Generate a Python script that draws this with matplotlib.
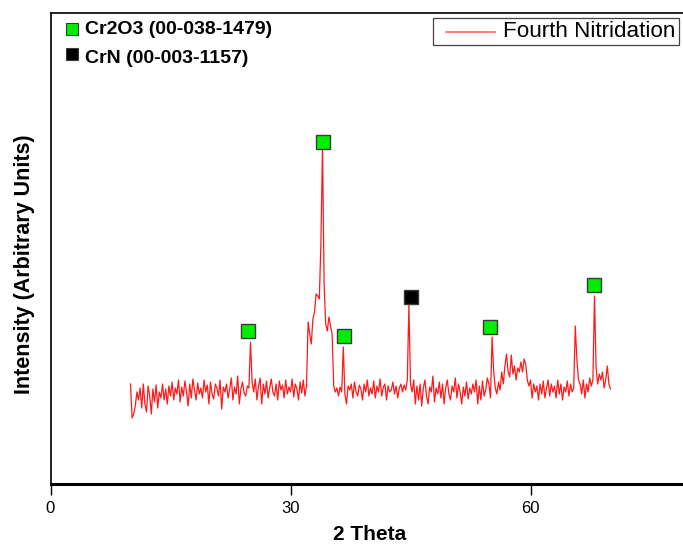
import numpy as np
import matplotlib.pyplot as plt
from matplotlib.lines import Line2D
from matplotlib.patches import Rectangle

plt.rcParams['font.family'] = ['Liberation Sans', 'DejaVu Sans']

# XRD scan, 10-70 deg in 0.2 deg steps (5 readings per degree)
two_theta = np.round(np.arange(10.0, 70.01, 0.2), 1)
intensity = [
    100, 66, 70, 78, 92,      # 10
    84, 96, 76, 100, 80,      # 11
    72, 98, 88, 70, 95,       # 12
    82, 99, 76, 92, 86,       # 13
    100, 84, 95, 80, 98,      # 14
    88, 102, 84, 96, 90,      # 15
    104, 82, 97, 88, 103,     # 16
    92, 78, 100, 86, 105,     # 17
    94, 84, 101, 90, 96,      # 18
    86, 104, 92, 99, 80,      # 19
    102, 90, 85, 100, 96,     # 20
    88, 104, 75, 97, 92,      # 21
    100, 86, 95, 106, 84,     # 22
    97, 90, 108, 80, 95,      # 23
    102, 91, 88, 98, 96,      # 24
    142, 102, 92, 105, 84,    # 25
    98, 106, 80, 100, 90,     # 26
    103, 86, 96, 105, 92,     # 27
    88, 100, 84, 103, 94,     # 28
    99, 86, 104, 90, 97,      # 29
    92, 105, 87, 100, 95,     # 30
    84, 102, 91, 104, 88,     # 31
    98, 162, 150, 140, 165,   # 32
    172, 190, 188, 185, 240,  # 33
    338, 200, 160, 153, 167,  # 34
    158, 150, 98, 92, 96,     # 35
    88, 97, 92, 137, 90,      # 36
    80, 98, 94, 100, 86,      # 37
    102, 92, 88, 99, 95,      # 38
    84, 100, 92, 104, 88,     # 39
    96, 90, 103, 86, 98,      # 40
    92, 105, 88, 97, 100,     # 41
    84, 98, 92, 94, 102,      # 42
    90, 98, 86, 96, 100,      # 43
    92, 99, 94, 104, 179,     # 44
    100, 92, 104, 80, 98,     # 45
    84, 100, 78, 96, 104,     # 46
    88, 80, 97, 92, 108,      # 47
    82, 96, 90, 102, 86,      # 48
    100, 80, 96, 104, 90,     # 49
    84, 98, 92, 106, 86,      # 50
    100, 92, 80, 97, 88,      # 51
    102, 85, 96, 90, 100,     # 52
    92, 104, 80, 98, 84,      # 53
    103, 88, 94, 106, 100,    # 54
    86, 147, 112, 96, 90,     # 55
    102, 94, 112, 100, 118,   # 56
    130, 112, 107, 129, 110,  # 57
    118, 104, 116, 112, 122,  # 58
    112, 125, 120, 104, 98,   # 59
    104, 86, 100, 92, 98,     # 60
    84, 100, 90, 103, 86,     # 61
    96, 104, 88, 100, 92,     # 62
    98, 86, 104, 90, 100,     # 63
    84, 97, 92, 103, 88,      # 64
    100, 92, 96, 158, 124,    # 65
    104, 100, 90, 104, 86,    # 66
    100, 92, 106, 98, 104,    # 67
    188, 116, 100, 110, 104,  # 68
    112, 96, 104, 118, 100,   # 69
    95,                       # 70
]

# phase markers placed over the indexed reflections
cr2o3_pos = [24.65, 34.1, 36.7, 54.9, 67.95]
cr2o3_h = [153, 342, 148, 157, 199]
crn_pos = [45.0]
crn_h = [187]

W, H = 683, 544


def fx(px):
    return px / W


def fy(px):
    return 1 - px / H


fig = plt.figure(figsize=(W / 100, H / 100), dpi=100)
ax = fig.add_axes([fx(50.5), 60 / H, 640 / W, 471 / H])

ax.plot(two_theta, intensity, color='#ff1a1a', lw=0.9)
ax.plot(cr2o3_pos, cr2o3_h, 's', ms=9.5, mfc='#00ee00', mec='#3a3a3a', mew=1.0, ls='none')
ax.plot(crn_pos, crn_h, 's', ms=9.5, mfc='black', mec='#3a3a3a', mew=1.0, ls='none')

ax.set_xlim(0, 80)
ax.set_ylim(0, 471)
ax.set_xticks([0, 30, 60])
ax.set_yticks([])
ax.tick_params(axis='x', direction='out', length=8, width=1, labelsize=12, pad=4)
ax.spines['bottom'].set_linewidth(2.2)
ax.spines['left'].set_linewidth(1.2)
ax.spines['top'].set_linewidth(1.2)

fig.text(fx(370), fy(540), '2 Theta', fontsize=15, fontweight='bold',
         ha='center', va='baseline')
fig.text(fx(25), fy(264), 'Intensity (Arbitrary Units)', fontsize=15.5,
         fontweight='bold', rotation=90, ha='center', va='center')

# phase key in the upper-left corner
key = [('#00ee00', 'Cr2O3 (00-038-1479)', 29, 34), ('black', 'CrN (00-003-1157)', 54, 63)]
for col, txt, sq_y, base_y in key:
    fig.lines.append(Line2D([fx(71.5)], [fy(sq_y)], marker='s', ms=8.3, mfc=col,
                            mec='#3a3a3a', mew=0.8, transform=fig.transFigure))
    fig.text(fx(85), fy(base_y), txt, fontsize=14, fontweight='bold',
             va='baseline', ha='left')

# series legend box, upper right
fig.patches.append(Rectangle((fx(433), fy(45)), fx(679) - fx(433), fy(18) - fy(45),
                             fill=True, facecolor='white', edgecolor='#444444', lw=0.9,
                             transform=fig.transFigure, zorder=5))
fig.lines.append(Line2D([fx(446), fx(495)], [fy(31.5), fy(31.5)], color='#ff6666',
                        lw=1.2, transform=fig.transFigure, zorder=6))
fig.text(fx(503), fy(37), 'Fourth Nitridation', fontsize=16.1, va='baseline',
         ha='left', zorder=6)

fig.savefig('out.png', dpi=100)
